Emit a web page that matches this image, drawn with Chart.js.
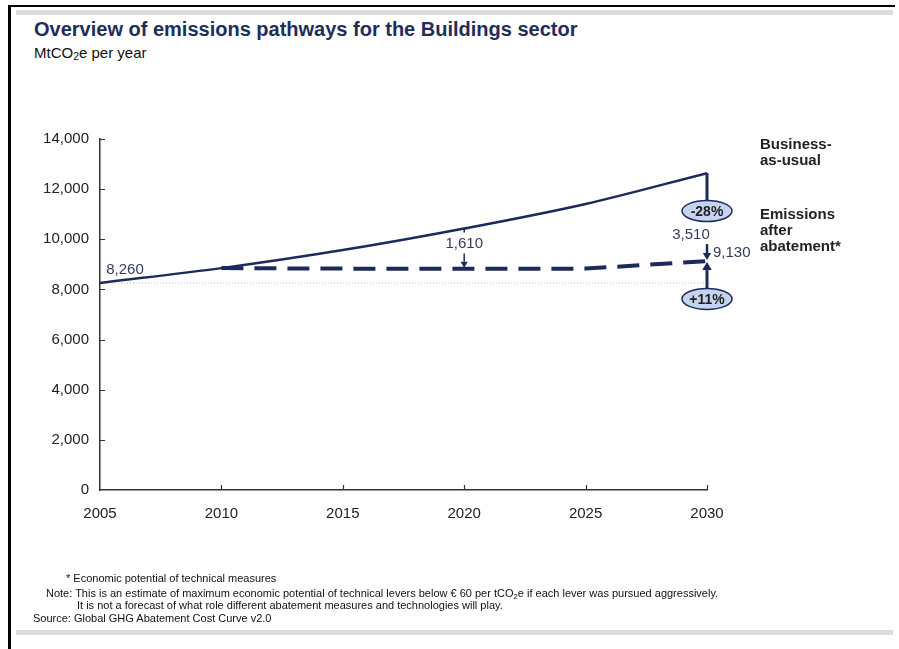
<!DOCTYPE html>
<html>
<head>
<meta charset="utf-8">
<script src="https://cdn.jsdelivr.net/npm/chart.js@4.4.1/dist/chart.umd.min.js"></script>
<style>
  html, body { margin: 0; padding: 0; background: #fff; }
  body { width: 899px; height: 649px; position: relative; overflow: hidden; font-family: "Liberation Sans", Arial, sans-serif; }
  #chart-canvas { position: absolute; left: 0; top: 0; }
  .frame-top { position: absolute; left: 8px; top: 5px; width: 887px; height: 2px; background: #000; }
  .frame-left { position: absolute; left: 8px; top: 5px; width: 3px; height: 644px; background: #000; }
  .band { position: absolute; left: 16px; width: 877px; height: 5px; background: #dcdcdc; }
  .title { position: absolute; left: 34px; top: 18px; font-size: 20px; font-weight: bold; color: #1f2d5c; white-space: nowrap; }
  .subtitle { position: absolute; left: 34px; top: 44px; font-size: 15px; color: #111; white-space: nowrap; }
  .side { position: absolute; left: 760px; font-size: 15px; font-weight: bold; color: #222; line-height: 16px; }
  .notes { position: absolute; left: 0; top: 572px; font-family: "Liberation Sans Narrow", "Arial Narrow", sans-serif; font-size: 11px; color: #111; line-height: 13px; white-space: nowrap; }
  .notes div { position: absolute; }
  sub { font-size: 70%; vertical-align: -2px; line-height: 0; }
</style>
</head>
<body>
<div class="frame-top"></div>
<div class="frame-left"></div>
<div class="band" style="top:10px"></div>
<div class="band" style="top:630px"></div>

<div class="title">Overview of emissions pathways for the Buildings sector</div>
<div class="subtitle">MtCO<sub>2</sub>e per year</div>

<canvas id="chart-canvas" width="899" height="649"></canvas>

<div class="side" style="top:136px">Business-<br>as-usual</div>
<div class="side" style="top:206px">Emissions<br>after<br>abatement*</div>

<div class="notes">
  <div style="left:66px; top:0">* Economic potential of technical measures</div>
  <div style="left:46px; top:15px">Note: This is an estimate of maximum economic potential of technical levers below € 60 per tCO<sub>2</sub>e if each lever was pursued aggressively.</div>
  <div style="left:77px; top:27px">It is not a forecast of what role different abatement measures and technologies will play.</div>
  <div style="left:33px; top:40px">Source: Global GHG Abatement Cost Curve v2.0</div>
</div>

<script>
// data
const years = [2005, 2010, 2015, 2020, 2025, 2030];
const businessAsUsual = [8260, 8850, 9570, 10430, 11410, 12640];
const abatementYears = [2010, 2015, 2020, 2025, 2030];
const afterAbatement = [8850, 8830, 8820, 8830, 9130];
const yTicks = [0, 2000, 4000, 6000, 8000, 10000, 12000, 14000];
const xTicks = [2005, 2010, 2015, 2020, 2025, 2030];

const NAVY = '#1c2a5a';
const LABEL = '#333c5e';
const FONT = '"Liberation Sans", Arial, sans-serif';

const fmt = v => v.toLocaleString('en-US');

function ellipse(ctx, cx, cy, text) {
  ctx.save();
  ctx.beginPath();
  ctx.ellipse(cx, cy, 25, 10.5, 0, 0, Math.PI * 2);
  ctx.fillStyle = '#c5d3ef';
  ctx.fill();
  ctx.lineWidth = 1.5;
  ctx.strokeStyle = NAVY;
  ctx.stroke();
  ctx.fillStyle = '#222';
  ctx.font = 'bold 14px ' + FONT;
  ctx.textAlign = 'center';
  ctx.textBaseline = 'middle';
  ctx.fillText(text, cx, cy + 1);
  ctx.restore();
}

function arrow(ctx, x, y1, y2, width, head) {
  // vertical arrow from y1 to y2, head at y2
  const dir = y2 > y1 ? 1 : -1;
  ctx.save();
  ctx.strokeStyle = NAVY;
  ctx.fillStyle = NAVY;
  ctx.lineWidth = width;
  ctx.beginPath();
  ctx.moveTo(x, y1);
  ctx.lineTo(x, y2 - dir * head);
  ctx.stroke();
  ctx.beginPath();
  ctx.moveTo(x - head * 0.6, y2 - dir * head);
  ctx.lineTo(x + head * 0.6, y2 - dir * head);
  ctx.lineTo(x, y2);
  ctx.closePath();
  ctx.fill();
  ctx.restore();
}

function label(ctx, text, x, y, align) {
  ctx.save();
  ctx.font = '15px ' + FONT;
  ctx.fillStyle = LABEL;
  ctx.textAlign = align || 'center';
  ctx.textBaseline = 'middle';
  ctx.fillText(text, x, y);
  ctx.restore();
}

const annotations = {
  id: 'annotations',
  beforeDatasetsDraw(chart) {
    const { ctx, scales: { x, y } } = chart;
    // dotted 2005 baseline
    ctx.save();
    ctx.strokeStyle = '#bdbdbd';
    ctx.lineWidth = 1;
    ctx.setLineDash([1, 2]);
    ctx.beginPath();
    ctx.moveTo(x.getPixelForValue(2005), y.getPixelForValue(businessAsUsual[0]));
    ctx.lineTo(x.getPixelForValue(2030) + 5, y.getPixelForValue(businessAsUsual[0]));
    ctx.stroke();
    ctx.restore();
  },
  afterDatasetsDraw(chart) {
    const { ctx, scales: { x, y } } = chart;
    const left = x.left, bottom = y.bottom;

    // inward tick marks
    ctx.save();
    ctx.strokeStyle = '#333';
    ctx.lineWidth = 1.2;
    ctx.beginPath();
    yTicks.slice(1).forEach(v => {
      const py = Math.round(y.getPixelForValue(v)) + 0.5;
      ctx.moveTo(left, py);
      ctx.lineTo(left + 5, py);
    });
    xTicks.slice(1).forEach(v => {
      const px = Math.round(x.getPixelForValue(v)) + 0.5;
      ctx.moveTo(px, bottom);
      ctx.lineTo(px, bottom - 5);
    });
    ctx.stroke();
    ctx.restore();

    const last = years.length - 1;
    const x30 = x.getPixelForValue(2030);
    const bau30 = y.getPixelForValue(businessAsUsual[last]);
    const ab30 = y.getPixelForValue(afterAbatement[afterAbatement.length - 1]);
    const base = y.getPixelForValue(businessAsUsual[0]);

    // BAU drop line to the -28% bubble
    ctx.save();
    ctx.strokeStyle = NAVY;
    ctx.lineWidth = 3;
    ctx.beginPath();
    ctx.moveTo(x30, bau30);
    ctx.lineTo(x30, bau30 + 30);
    ctx.stroke();
    ctx.restore();

    const pct = Math.round((afterAbatement[afterAbatement.length - 1] / businessAsUsual[last] - 1) * 100);
    ellipse(ctx, x30, bau30 + 38, pct + '%');
    label(ctx, fmt(businessAsUsual[last] - afterAbatement[afterAbatement.length - 1]), x30 - 16, bau30 + 62);
    arrow(ctx, x30, bau30 + 71, ab30 - 1, 2.5, 7);
    label(ctx, fmt(afterAbatement[afterAbatement.length - 1]), x30 + 6, ab30 - 8, 'left');

    // growth vs 2005
    const growth = Math.round((afterAbatement[afterAbatement.length - 1] / businessAsUsual[0] - 1) * 100);
    arrow(ctx, x30, base + 6, ab30 + 1, 3, 8);
    ellipse(ctx, x30, base + 16, '+' + growth + '%');

    // 2020 gap
    const x20 = x.getPixelForValue(2020);
    const bau20 = y.getPixelForValue(businessAsUsual[3]);
    const ab20 = y.getPixelForValue(afterAbatement[2]);
    ctx.save();
    ctx.strokeStyle = NAVY;
    ctx.lineWidth = 1.5;
    ctx.beginPath();
    ctx.moveTo(x20, bau20);
    ctx.lineTo(x20, bau20 + 4);
    ctx.stroke();
    ctx.restore();
    label(ctx, fmt(businessAsUsual[3] - afterAbatement[2]), x20, bau20 + 15);
    arrow(ctx, x20, bau20 + 25, ab20 - 1, 1.5, 6);

    // 2005 start value
    label(ctx, fmt(businessAsUsual[0]), x.getPixelForValue(2005) + 25, base - 13);
  }
};

const ctx = document.getElementById('chart-canvas');
new Chart(ctx, {
  type: 'line',
  data: {
    datasets: [
      {
        label: 'Business-as-usual',
        data: years.map((yr, i) => ({ x: yr, y: businessAsUsual[i] })),
        borderColor: NAVY,
        borderWidth: 2.5,
        pointRadius: 0,
        cubicInterpolationMode: 'monotone',
      },
      {
        label: 'Emissions after abatement',
        data: abatementYears.map((yr, i) => ({ x: yr, y: afterAbatement[i] })),
        borderColor: NAVY,
        borderWidth: 4,
        borderDash: [22, 11],
        pointRadius: 0,
        tension: 0,
      },
    ],
  },
  options: {
    responsive: false,
    animation: false,
    layout: { padding: { left: 0, right: 192, top: 139, bottom: 119 } },
    plugins: { legend: { display: false }, tooltip: { enabled: false } },
    scales: {
      x: {
        type: 'linear',
        min: 2005,
        max: 2030,
        afterBuildTicks(scale) { scale.ticks = xTicks.map(v => ({ value: v })); },
        afterFit(scale) { scale.height = 40; },
        grid: { display: false, drawTicks: false },
        border: { display: true, color: '#333', width: 1.5 },
        ticks: {
          padding: 15,
          color: '#222',
          font: { size: 15, family: FONT },
          callback: v => String(v),
          maxRotation: 0,
        },
      },
      y: {
        min: 0,
        max: 14000,
        afterBuildTicks(scale) { scale.ticks = yTicks.map(v => ({ value: v })); },
        afterFit(scale) { scale.width = 100; },
        grid: { display: false, drawTicks: false },
        border: { display: true, color: '#333', width: 1.5 },
        ticks: {
          padding: 11,
          color: '#222',
          font: { size: 15, family: FONT },
          callback: v => fmt(v),
        },
      },
    },
  },
  plugins: [annotations],
});
</script>
</body>
</html>
